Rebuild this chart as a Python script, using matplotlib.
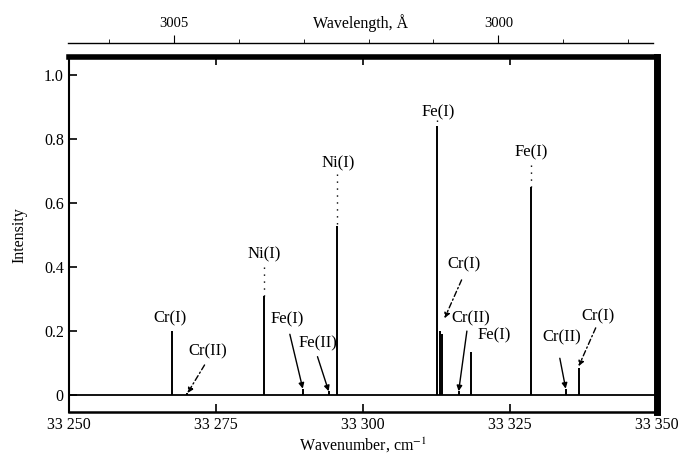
"""発光スペクトルの再現"""
import numpy as np
import matplotlib
matplotlib.use("Agg")
import matplotlib.pyplot as plt

plt.rcParams['font.family'] = ['Liberation Serif', 'DejaVu Serif']
plt.rcParams['mathtext.fontset'] = 'stix'

# ピーク位置（波数, cm^-1）と強度
peak_wn = [33267.5, 33270.2, 33283.2, 33289.8, 33294.2, 33295.7, 33312.6,
           33313.1, 33313.5, 33316.3, 33318.4, 33328.6, 33334.5, 33336.7]
peak_int = [0.20, 0.006, 0.31, 0.02, 0.012, 0.53, 0.84,
            0.20, 0.19, 0.012, 0.135, 0.65, 0.02, 0.085]

# ラベル
label_text = ["Cr(I)", "Cr(II)", "Ni(I)", "Fe(I)", "Fe(II)", "Ni(I)", "Fe(I)",
              "Fe(I)", "Cr(I)", "Cr(II)", "Fe(I)", "Cr(II)", "Cr(I)"]
label_x = [33267.2, 33273.6, 33283.3, 33287.2, 33292.3, 33295.9, 33312.9,
           33328.6, 33317.2, 33318.4, 33322.4, 33333.8, 33340.0]
label_y = [0.24, 0.135, 0.44, 0.235, 0.16, 0.725, 0.885,
           0.76, 0.41, 0.24, 0.185, 0.18, 0.245]

# 矢印（始点 -> 終点）と線種
arrow_kind = [None, "dashdot", "dot", "solid", "solid", "dot", "dot",
              "dot", "dashdot", "solid", None, "solid", "dashdot"]
arrow_x0 = [None, 33273.1, 33283.2, 33287.6, 33292.3, 33295.7, 33312.6,
            33328.6, 33316.8, 33317.7, None, 33333.5, 33339.6]
arrow_y0 = [None, 0.094, 0.40, 0.19, 0.12, 0.69, 0.86,
            0.72, 0.36, 0.20, None, 0.115, 0.21]
arrow_x1 = [None, 33270.2, 33283.2, 33289.8, 33294.2, 33295.7, 33312.6,
            33328.6, 33313.9, 33316.3, None, 33334.5, 33336.7]
arrow_y1 = [None, 0.006, 0.31, 0.02, 0.012, 0.53, 0.84,
            0.65, 0.24, 0.012, None, 0.02, 0.09]

# 軸の目盛り
x_ticks = [33250, 33275, 33300, 33325, 33350]
x_ticklabels = ["33 250", "33 275", "33 300", "33 325", "33 350"]
y_ticks = [0, 0.2, 0.4, 0.6, 0.8, 1.0]
y_ticklabels = ["0", "0.2", "0.4", "0.6", "0.8", "1.0"]
wl_major = [3005, 3000]
wl_minor = [3006, 3004, 3003, 3002, 3001, 2999, 2998]
n_air = 1.000292


def wl_to_wn(wl):
    # 空気中の波長(Å) -> 真空波数(cm^-1)
    return 1e8 / (np.asarray(wl, dtype=float) * n_air)


fig = plt.figure(figsize=(6.8, 4.57), dpi=100)
ax = fig.add_axes([0.101, 0.0985, 0.865, 0.776])

ax.axhline(0, color='k', lw=1.3, zorder=2)
ax.vlines(peak_wn, 0, peak_int, color='k', lw=1.4, zorder=3)

for i in range(len(label_text)):
    ax.text(label_x[i], label_y[i], label_text[i], ha='center', va='center',
            fontsize=12)
    kind = arrow_kind[i]
    if kind is None:
        continue
    if kind == "dot":
        ax.plot([arrow_x0[i], arrow_x1[i]], [arrow_y0[i], arrow_y1[i]],
                color='k', lw=1.0, ls=(0, (1, 4)))
    else:
        ls = '-' if kind == "solid" else (0, (4, 2, 1, 2))
        ax.annotate("", xy=(arrow_x1[i], arrow_y1[i]),
                    xytext=(arrow_x0[i], arrow_y0[i]),
                    arrowprops=dict(arrowstyle='-|>', color='k', lw=1.0,
                                    ls=ls, mutation_scale=8,
                                    shrinkA=0, shrinkB=0))

ax.set_xlim(33250, 33350)
ax.set_ylim(-0.053, 1.056)
ax.set_xticks(x_ticks)
ax.set_xticklabels(x_ticklabels)
ax.set_yticks(y_ticks)
ax.set_yticklabels(y_ticklabels)
ax.tick_params(direction='in', top=True, right=False, length=6, width=1.2,
               labelsize=11.5)
ax.set_xlabel("Wavenumber, cm$^{-1}$", fontsize=11.5, labelpad=2)
ax.set_ylabel("Intensity", fontsize=11.5, labelpad=12)

ax.spines['top'].set_linewidth(4)
ax.spines['right'].set_linewidth(5)
ax.spines['left'].set_linewidth(1.5)
ax.spines['bottom'].set_linewidth(1.8)

# 上側の波長軸
ax_top = fig.add_axes([0.1, 0.906, 0.86, 0.0001])
ax_top.patch.set_visible(False)
for side in ['left', 'right', 'bottom']:
    ax_top.spines[side].set_visible(False)
ax_top.spines['top'].set_linewidth(1.0)
ax_top.set_xlim(33250, 33350)
ax_top.set_yticks([])
ax_top.xaxis.tick_top()
ax_top.set_xticks(wl_to_wn(wl_major))
ax_top.set_xticklabels([str(w) for w in wl_major])
ax_top.set_xticks(wl_to_wn(wl_minor), minor=True)
ax_top.tick_params(which='major', direction='out', length=6, labelsize=10.5)
ax_top.tick_params(which='minor', direction='out', length=3)
fig.text(0.53, 0.95, "Wavelength, Å", ha='center', va='center', fontsize=11.5)

fig.savefig("out.png", dpi=100)
